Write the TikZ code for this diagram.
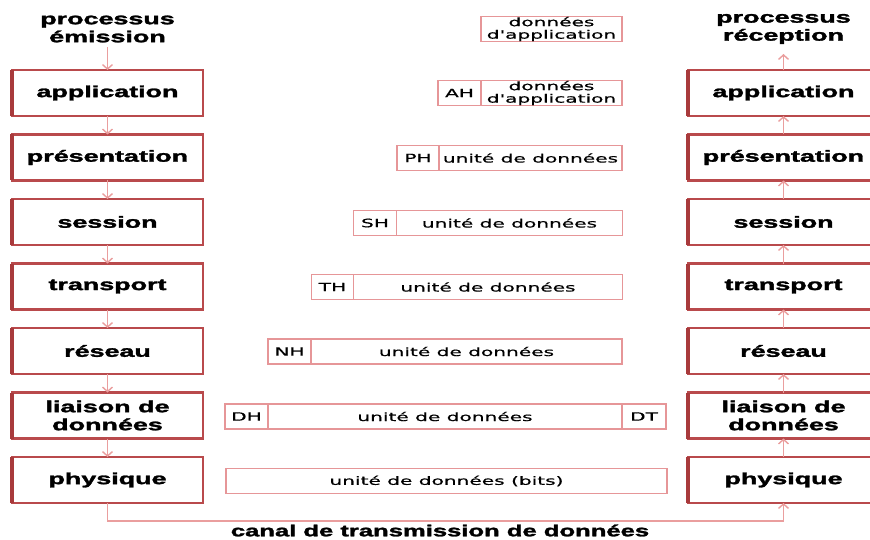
\documentclass[tikz,border=0pt]{standalone}
\usepackage{fontspec}
\usetikzlibrary{arrows.meta}
\newfontfamily\lblfont{Liberation Sans}[BoldFeatures={FakeBold=1.6}]
\newfontfamily\pdufont{DejaVu Sans}[FakeBold=0.5]
\definecolor{boxred}{RGB}{185,74,76}
\definecolor{edgered}{RGB}{168,58,60}
\definecolor{pdured}{RGB}{230,150,152}
\definecolor{flowpink}{RGB}{234,158,158}
\newcommand\bwide[1]{\scalebox{1.68}[1]{#1}}
\newcommand\pwide[1]{\scalebox{1.75}[1]{#1}}
\tikzset{
  lbl/.style={font=\lblfont\bfseries\fontsize{16}{18}\selectfont},
  layer/.style={lbl, draw=boxred, line width=2.5pt, minimum width=191pt,
    minimum height=46pt, inner sep=0pt, outer sep=0pt, align=center},
  heading/.style={lbl, inner sep=0pt, outer sep=0pt, align=center},
  pdu/.style={draw=pdured, line width=1.1pt, minimum height=25pt,
    inner sep=0pt, outer sep=0pt, align=center,
    font=\pdufont\fontsize{11.5}{12.5}\selectfont},
  flow/.style={draw=flowpink, line width=1.4pt,
    -{Straight Barb[length=4.5pt,width=10pt]}},
  thickedge/.style={draw=edgered, line width=4.5pt},
}
\begin{document}
\begin{tikzpicture}[x=1pt,y=-1pt]
\useasboundingbox (0,0) rectangle (870,540);
\fill[white] (0,0) rectangle (870,540);
\clip (0,0) rectangle (870,540);

% headings of the two stacks
\node[heading] (ltitle) at (107.5,29) {\bwide{processus}\\\bwide{émission}};
\node[heading] (rtitle) at (783.5,29) {\bwide{processus}\\\bwide{réception}};

% the seven layers, sender (left) and receiver (right)
\foreach \nm/\txt [count=\i from 0] in {
    app/{\bwide{application}},
    pres/{\bwide{présentation}},
    sess/{\bwide{session}},
    trans/{\bwide{transport}},
    net/{\bwide{réseau}},
    link/{\bwide{liaison de}\\\bwide{données}},
    phy/{\bwide{physique}}} {
  \node[layer] (l\nm) at (107.5,93+64.5*\i) {\txt};
  \node[layer] (r\nm) at (783.5,93+64.5*\i) {\txt};
  \draw[thickedge] (l\nm.north west) -- (l\nm.south west);
  \draw[thickedge] (r\nm.north west) -- (r\nm.south west);
}

% flow down the sending stack
\draw[flow] (ltitle.south) ++(0,5) -- (lapp.north);
\draw[flow] (lapp.south) -- (lpres.north);
\draw[flow] (lpres.south) -- (lsess.north);
\draw[flow] (lsess.south) -- (ltrans.north);
\draw[flow] (ltrans.south) -- (lnet.north);
\draw[flow] (lnet.south) -- (llink.north);
\draw[flow] (llink.south) -- (lphy.north);

% flow up the receiving stack
\draw[flow] (rphy.north) -- (rlink.south);
\draw[flow] (rlink.north) -- (rnet.south);
\draw[flow] (rnet.north) -- (rtrans.south);
\draw[flow] (rtrans.north) -- (rsess.south);
\draw[flow] (rsess.north) -- (rpres.south);
\draw[flow] (rpres.north) -- (rapp.south);
\coordinate (rtop) at (783.5,54);
\draw[flow] (rapp.north) -- (rtop);

% data units with their headers
\node[pdu, minimum width=141pt] (d0) at (551.5,29)
  {\pwide{données}\\\pwide{d\textquotesingle application}};

\node[pdu, minimum width=43pt] (ah) at (459.5,93) {\pwide{AH}};
\node[pdu, minimum width=141pt] (d1) at (551.5,93)
  {\pwide{données}\\\pwide{d\textquotesingle application}};

\node[pdu, minimum width=42pt] (ph) at (418,158) {\pwide{PH}};
\node[pdu, minimum width=183pt] (d2) at (530.5,158) {\pwide{unité de données}};

\node[pdu, minimum width=43pt] (sh) at (375,223) {\pwide{SH}};
\node[pdu, minimum width=226pt] (d3) at (509.5,223) {\pwide{unité de données}};

\node[pdu, minimum width=42pt] (th) at (332.5,287) {\pwide{TH}};
\node[pdu, minimum width=269pt] (d4) at (488,287) {\pwide{unité de données}};

\node[pdu, minimum width=43pt] (nh) at (289.5,351.5) {\pwide{NH}};
\node[pdu, minimum width=311pt] (d5) at (466.5,351.5) {\pwide{unité de données}};

\node[pdu, minimum width=43pt] (dh) at (246.5,416.5) {\pwide{DH}};
\node[pdu, minimum width=354pt] (d6) at (445,416.5) {\pwide{unité de données}};
\node[pdu, minimum width=44pt] (dt) at (644,416.5) {\pwide{DT}};

\node[pdu, minimum width=441pt] (d7) at (446.5,481) {\pwide{unité de données (bits)}};

% transmission channel between the two physical layers
\coordinate (cl) at (107.5,521);
\coordinate (cr) at (783.5,521);
\draw[flow] (lphy.south) -- (cl) -- (cr) -- (rphy.south);
\node[heading] (chan) at (440,530.5) {\scalebox{1.6}[1]{canal de transmission de données}};
\end{tikzpicture}
\end{document}
